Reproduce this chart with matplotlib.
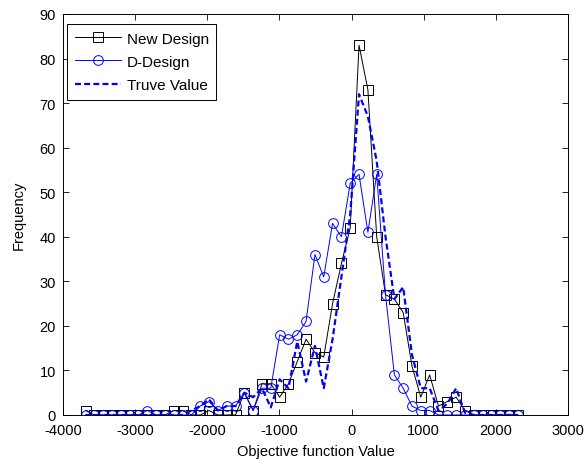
import matplotlib
matplotlib.use("Agg")
import matplotlib.pyplot as plt

plt.rcParams['font.family'] = ['Liberation Sans', 'DejaVu Sans']
plt.rcParams['lines.scale_dashes'] = False
plt.rcParams['axes.unicode_minus'] = False

# bin centres (objective function value)
x_vals = [-3688, -3566, -3443, -3321, -3199, -3077, -2954, -2832, -2710, -2587,
          -2465, -2343, -2220, -2098, -1976, -1854, -1731, -1609, -1487, -1364,
          -1242, -1120, -997, -875, -753, -631, -508, -386, -264, -141,
          -19, 103, 226, 348, 470, 593, 715, 837, 959, 1082,
          1204, 1326, 1449, 1571, 1693, 1816, 1938, 2060, 2182, 2305]

new_design = [1, 0, 0, 0, 0, 0, 0, 0, 0, 0,
              1, 1, 0, 0, 1, 0, 0, 0, 5, 1,
              7, 7, 4, 7, 12, 17, 14, 13, 25, 34,
              42, 83, 73, 40, 27, 26, 23, 11, 4, 9,
              2, 3, 4, 1, 0, 0, 0, 0, 0, 0]

d_design = [0, 0, 0, 0, 0, 0, 0, 1, 0, 0,
            0, 0, 0, 2, 3, 1, 2, 2, 5, 1,
            6, 6, 18, 17, 18, 21, 36, 31, 43, 40,
            52, 54, 41, 54, 27, 9, 6, 2, 1, 1,
            0, 0, 0, 0, 0, 0, 0, 0, 0, 0]

true_value = [0, 0, 0, 0, 0, 0, 0, 0, 0, 0,
              0, 0, 1, 2, 3.5, 1, 2, 2, 5, 4,
              6, 1.7, 8, 6, 16.5, 7.5, 15.5, 6, 17, 31,
              45, 72, 67, 57, 40, 26, 28.7, 13.5, 6, 6,
              1, 2.5, 6, 0.5, 0, 0, 0, 0, 0, 0]

labels = ["New Design", "D-Design", "Truve Value"]
x_ticks = [-4000, -3000, -2000, -1000, 0, 1000, 2000, 3000]
y_ticks = [0, 10, 20, 30, 40, 50, 60, 70, 80, 90]

FS = 10.5

fig = plt.figure(figsize=(5.85, 4.6), dpi=100)
ax = fig.add_axes([0.1077, 0.0957, 0.8633, 0.8717])

ax.plot(x_vals, new_design, color='black', linewidth=0.7, marker='s',
        markersize=7, markerfacecolor='none', markeredgecolor='black',
        markeredgewidth=0.7, label=labels[0])
ax.plot(x_vals, d_design, color='#0000FF', linewidth=0.7, marker='o',
        markersize=7, markerfacecolor='none', markeredgecolor='#0000FF',
        markeredgewidth=0.7, label=labels[1])
ax.plot(x_vals, true_value, color='#0000FF', linewidth=1.6, linestyle='--',
        dashes=(4.3, 2.3), label=labels[2])

ax.set_xlim(-4000, 3000)
ax.set_ylim(0, 90)
ax.set_xticks(x_ticks)
ax.set_yticks(y_ticks)
ax.tick_params(direction='in', top=True, right=True, labelsize=FS, length=4, width=0.6)
ax.tick_params(axis='x', pad=6)
ax.tick_params(axis='y', pad=5)
for s in ax.spines.values():
    s.set_linewidth(0.7)
ax.set_xlabel("Objective function Value", fontsize=FS, labelpad=5)
ax.set_ylabel("Frequency", fontsize=FS, labelpad=10)

leg = ax.legend(loc='upper left', bbox_to_anchor=(0.008, 0.975), fontsize=11,
                fancybox=False, framealpha=1, edgecolor='black', borderaxespad=0,
                handlelength=3.0, handletextpad=0.4, borderpad=0.5,
                labelspacing=0.6)
leg.get_frame().set_linewidth(0.7)

fig.savefig("out.png", dpi=100)
